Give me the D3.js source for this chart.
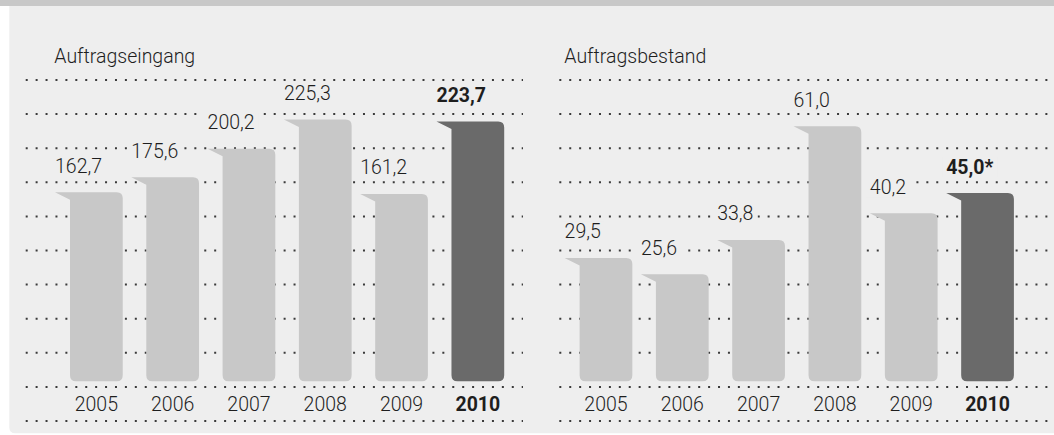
<!DOCTYPE html>
<html>
<head>
<meta charset="utf-8">
<script src="https://cdn.jsdelivr.net/npm/d3@7"></script>
<style>
  html, body { margin: 0; padding: 0; background: #ffffff; }
  svg { display: block; }
  text { font-family: Roboto, "Liberation Sans", Arial, sans-serif; }
</style>
</head>
<body>
<svg id="chart" width="1054" height="435"></svg>
<script>
// ---- data ----
const years = ["2005", "2006", "2007", "2008", "2009", "2010"];
const eingangValues = [162.7, 175.6, 200.2, 225.3, 161.2, 223.7];
const bestandValues = [29.5, 25.6, 33.8, 61.0, 40.2, 45.0];
const bestandMarks = ["", "", "", "", "", "*"];
const eingangMarks = ["", "", "", "", "", ""];
const panelTitles = ["Auftragseingang", "Auftragsbestand"];
const highlightYear = "2010";

// ---- styles / layout ----
const W = 1054, H = 435;
const bgPanel = "#eeeeee";
const topBand = "#c8c8c8";
const barLight = "#c8c8c8";
const barDark = "#6a6a6a";
const textColor = "#1e1e1e";
const dotColor = "#3a3a3a";
const fontSize = 19.5;

const de = d3.formatLocale({decimal: ",", thousands: ".", grouping: [3], currency: ["", " €"]});
const fmt = de.format(".1f");

const svg = d3.select("#chart");

// background
svg.append("rect").attr("x", 0).attr("y", 0).attr("width", W).attr("height", H).attr("fill", "#ffffff");
const px0 = 9.3, py0 = 6, px1 = W, py1 = 433.3, pr = 6;
svg.append("path")
  .attr("d", `M${px0},${py0} L${px1},${py0} L${px1},${py1} L${px0 + pr},${py1} Q${px0},${py1} ${px0},${py1 - pr} Z`)
  .attr("fill", bgPanel);
svg.append("rect").attr("x", 0).attr("y", 0).attr("width", W).attr("height", py0).attr("fill", topBand);

const gridYs = d3.range(11).map(i => 80 + i * 34.1);

const panels = [
  {title: panelTitles[0], values: eingangValues, marks: eingangMarks, titleX: 54.3,
   dotX0: 25.7, dotX1: 523, bandRange: [70, 504.2], yDomain: [0, 250], yPerUnit: 1.1614},
  {title: panelTitles[1], values: bestandValues, marks: bestandMarks, titleX: 564.3,
   dotX0: 559.3, dotX1: 1048, bandRange: [579.6, 1013.9], yDomain: [0, 70], yPerUnit: 4.18}
];

const baseY = 381.2;
const tabW = 15, tabDrop = 7.5, rad = 6;

function barPath(x, y, w, h) {
  const r = Math.min(rad, h / 2);
  return `M${x - tabW},${y} L${x + w - r},${y} Q${x + w},${y} ${x + w},${y + r} ` +
         `L${x + w},${y + h - r} Q${x + w},${y + h} ${x + w - r},${y + h} ` +
         `L${x + r},${y + h} Q${x},${y + h} ${x},${y + h - r} L${x},${y + tabDrop} Z`;
}

panels.forEach(p => {
  const g = svg.append("g");
  const x = d3.scaleBand().domain(years).range(p.bandRange).paddingInner(0.309).paddingOuter(0);
  const y = d3.scaleLinear().domain(p.yDomain).range([baseY, baseY - p.yDomain[1] * p.yPerUnit]);

  // dotted grid
  g.selectAll("line.grid").data(gridYs).join("line")
    .attr("class", "grid")
    .attr("x1", p.dotX0).attr("x2", p.dotX1)
    .attr("y1", d => d).attr("y2", d => d)
    .attr("stroke", dotColor).attr("stroke-width", 2)
    .attr("stroke-dasharray", "2,7.92");

  // title
  g.append("text").attr("x", p.titleX).attr("y", 63.3)
    .attr("font-size", fontSize).attr("font-weight", 300).attr("fill", textColor)
    .text(p.title);

  const data = years.map((yr, i) => ({year: yr, value: p.values[i], mark: p.marks[i]}));

  // bars
  g.selectAll("path.bar").data(data).join("path")
    .attr("class", "bar")
    .attr("d", d => barPath(x(d.year), y(d.value), x.bandwidth(), baseY - y(d.value)))
    .attr("fill", d => d.year === highlightYear ? barDark : barLight);

  // value labels with background
  const lg = g.selectAll("g.vlabel").data(data).join("g").attr("class", "vlabel");
  const bgR = lg.append("rect").attr("fill", bgPanel);
  const vt = lg.append("text")
    .attr("x", d => x(d.year) - tabW)
    .attr("y", d => y(d.value) - 19.5)
    .attr("font-size", fontSize)
    .attr("font-weight", d => d.year === highlightYear ? 700 : 300)
    .attr("fill", textColor)
    .text(d => fmt(d.value) + d.mark);
  lg.each(function(d) {
    const t = d3.select(this).select("text");
    const w = t.node().getComputedTextLength();
    const tx = +t.attr("x"), ty = +t.attr("y");
    d3.select(this).select("rect")
      .attr("x", tx - 4).attr("y", ty - 17).attr("width", w + 8).attr("height", 21);
  });

  // year axis labels
  g.selectAll("text.year").data(data).join("text")
    .attr("class", "year")
    .attr("x", d => x(d.year) + x.bandwidth() / 2)
    .attr("y", 411)
    .attr("text-anchor", "middle")
    .attr("font-size", fontSize)
    .attr("font-weight", d => d.year === highlightYear ? 700 : 300)
    .attr("fill", textColor)
    .text(d => d.year);
});
</script>
</body>
</html>
